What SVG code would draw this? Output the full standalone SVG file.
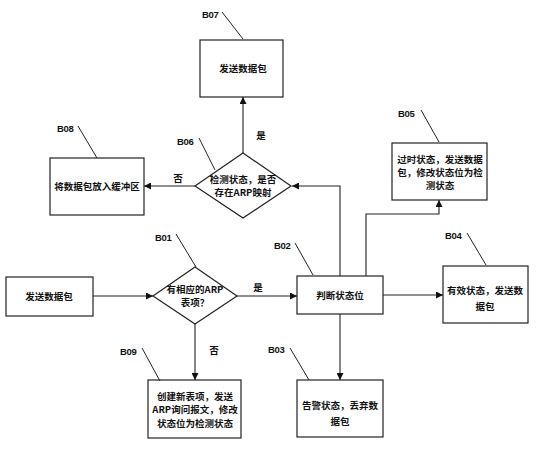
<svg xmlns="http://www.w3.org/2000/svg" width="541" height="450" viewBox="0 0 541 450">
<style>
.box{fill:#fff;stroke:#222;stroke-width:1.2}
.t{font-family:"Noto Sans CJK SC","Liberation Sans",sans-serif;font-size:9.5px;font-weight:bold;fill:#111;text-anchor:middle}
.lb{font-family:"Liberation Sans",Arial,sans-serif;font-size:9.5px;font-weight:bold;fill:#111;letter-spacing:-0.3px}
.ld{stroke:#222;stroke-width:1;fill:none}
.c{stroke:#222;stroke-width:1.1;fill:none;marker-end:url(#ah)}
</style>
<defs>
<marker id="ah" viewBox="0 0 10 10" refX="10" refY="5" markerWidth="7" markerHeight="7" markerUnits="userSpaceOnUse" orient="auto">
<path d="M0,0 L10,5 L0,10 z" fill="#111"/>
</marker>
</defs>
<rect width="541" height="450" fill="#fff"/>
<g id="connectors">
<path class="c" d="M93,296 H153"/>
<path class="c" d="M237,296 H297"/>
<path class="c" d="M195,324 V380"/>
<path class="c" d="M340,276 V186 H292"/>
<path class="c" d="M366,276 V214 H439 V200"/>
<path class="c" d="M383,295 H443"/>
<path class="c" d="M340,314 V380"/>
<path class="c" d="M243,153 V97"/>
<path class="c" d="M195,186 H144"/>
</g>
<g id="labels">
<text class="t" x="261" y="139">是</text>
<text class="t" x="178" y="182">否</text>
<text class="t" x="258" y="291">是</text>
<text class="t" x="214" y="354">否</text>
</g>
<g id="start">
<rect class="box" x="6" y="277" width="87" height="39"/>
<text class="t" x="49" y="300">发送数据包</text>
</g>
<g id="B01">
<polygon class="box" points="195,267 237,296 195,324 153,296"/>
<text class="t" x="195" y="293">有相应的ARP</text>
<text class="t" x="195" y="306">表项？</text>
<text class="lb" x="155" y="241">B01</text>
<path class="ld" d="M176,234 L196,267"/>
</g>
<g id="B02">
<rect class="box" x="297" y="276" width="86" height="38"/>
<text class="t" x="340" y="299">判断状态位</text>
<text class="lb" x="274" y="249">B02</text>
<path class="ld" d="M295,243 L313,275"/>
</g>
<g id="B03">
<rect class="box" x="297" y="380" width="86" height="57"/>
<text class="t" x="340" y="409">告警状态，丢弃数</text>
<text class="t" x="340" y="425">据包</text>
<text class="lb" x="268" y="353">B03</text>
<path class="ld" d="M290,348 L309,380"/>
</g>
<g id="B04">
<rect class="box" x="443" y="266" width="85" height="57"/>
<text class="t" x="485" y="294">有效状态，发送数</text>
<text class="t" x="485" y="310">据包</text>
<text class="lb" x="445" y="239">B04</text>
<path class="ld" d="M467,233 L486,265"/>
</g>
<g id="B05">
<rect class="box" x="392" y="143" width="95" height="57"/>
<text class="t" x="440" y="163">过时状态，发送数据</text>
<text class="t" x="440" y="176">包，修改状态位为检</text>
<text class="t" x="440" y="189">测状态</text>
<text class="lb" x="398" y="117">B05</text>
<path class="ld" d="M421,110 L439,142"/>
</g>
<g id="B06">
<polygon class="box" points="243,153 291,186 243,218 195,186"/>
<text class="t" x="243" y="183">检测状态，是否</text>
<text class="t" x="243" y="196">存在ARP映射</text>
<text class="lb" x="177" y="145">B06</text>
<path class="ld" d="M199,138 L215,170"/>
</g>
<g id="B07">
<rect class="box" x="200" y="40" width="83" height="57"/>
<text class="t" x="243" y="72">发送数据包</text>
<text class="lb" x="202" y="18">B07</text>
<path class="ld" d="M222,12 L243,39"/>
</g>
<g id="B08">
<rect class="box" x="50" y="158" width="94" height="57"/>
<text class="t" x="97" y="190">将数据包放入缓冲区</text>
<text class="lb" x="57" y="132">B08</text>
<path class="ld" d="M78,126 L97,158"/>
</g>
<g id="B09">
<rect class="box" x="148" y="380" width="93" height="58"/>
<text class="t" x="195" y="400">创建新表项，发送</text>
<text class="t" x="195" y="413">ARP询问报文，修改</text>
<text class="t" x="195" y="427">状态位为检测状态</text>
<text class="lb" x="120" y="355">B09</text>
<path class="ld" d="M142,348 L160,381"/>
</g>
</svg>
